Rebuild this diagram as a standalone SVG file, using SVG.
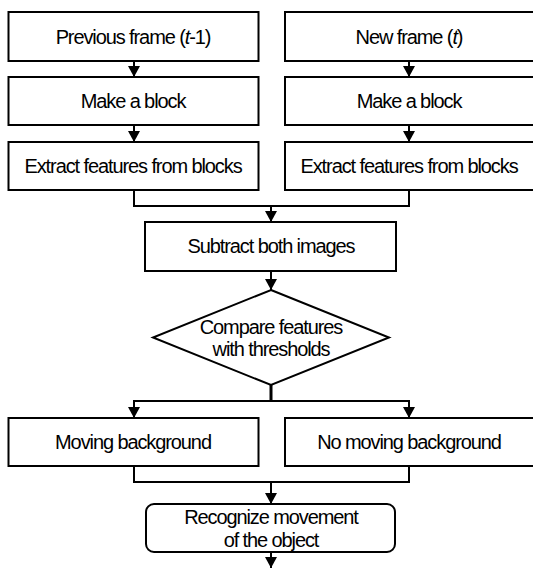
<svg xmlns="http://www.w3.org/2000/svg" width="533" height="569" viewBox="0 0 533 569">
  <style>
    .box { fill: #ffffff; stroke: #000000; stroke-width: 2; }
    .line { fill: none; stroke: #000000; stroke-width: 2; }
    .lbl { font-family: "Liberation Sans", Arial, sans-serif; font-size: 20px; letter-spacing: -1.1px; fill: #000000; text-anchor: middle; }
  </style>
  <defs>
    <marker id="arrow" viewBox="0 0 10 11" refX="10" refY="5.5" markerWidth="11" markerHeight="12" markerUnits="userSpaceOnUse" orient="auto">
      <path d="M0,0 L10,5.5 L0,11 Z" fill="#000000"/>
    </marker>
  </defs>
  <rect width="533" height="569" fill="#ffffff"/>

  <g id="connectors">
    <!-- left column -->
    <line class="line" x1="134" y1="61" x2="134" y2="77" marker-end="url(#arrow)"/>
    <line class="line" x1="134" y1="125" x2="134" y2="142" marker-end="url(#arrow)"/>
    <!-- right column -->
    <line class="line" x1="409" y1="61" x2="409" y2="77" marker-end="url(#arrow)"/>
    <line class="line" x1="409" y1="125" x2="409" y2="142" marker-end="url(#arrow)"/>
    <!-- merge of feature blocks -->
    <polyline class="line" points="134,190 134,206 409,206 409,190"/>
    <line class="line" x1="271" y1="206" x2="271" y2="222" marker-end="url(#arrow)"/>
    <line class="line" x1="271" y1="271" x2="271" y2="290" marker-end="url(#arrow)"/>
    <!-- split after decision -->
    <line class="line" x1="271" y1="385" x2="271" y2="401" style="stroke-width:3"/>
    <line class="line" x1="133" y1="401" x2="410" y2="401"/>
    <line class="line" x1="134" y1="401" x2="134" y2="418" marker-end="url(#arrow)"/>
    <line class="line" x1="409" y1="401" x2="409" y2="418" marker-end="url(#arrow)"/>
    <!-- merge of background branches -->
    <polyline class="line" points="134,466 134,482 409,482 409,466"/>
    <line class="line" x1="271" y1="482" x2="271" y2="504" marker-end="url(#arrow)"/>
    <line class="line" x1="271" y1="552" x2="271" y2="568" marker-end="url(#arrow)"/>
  </g>

  <g id="prev-frame">
    <rect class="box" x="8.5" y="12" width="250" height="49"/>
    <text class="lbl" x="133" y="44">Previous frame (<tspan font-style="italic">t</tspan>-1)</text>
  </g>
  <g id="new-frame">
    <rect class="box" x="285" y="12" width="250" height="49"/>
    <text class="lbl" x="409" y="44">New frame (<tspan font-style="italic">t</tspan>)</text>
  </g>
  <g id="make-block-left">
    <rect class="box" x="8.5" y="77" width="250" height="48"/>
    <text class="lbl" x="133" y="108">Make a block</text>
  </g>
  <g id="make-block-right">
    <rect class="box" x="285" y="77" width="250" height="48"/>
    <text class="lbl" x="409" y="108">Make a block</text>
  </g>
  <g id="extract-left">
    <rect class="box" x="8.5" y="142" width="250" height="48"/>
    <text class="lbl" x="133" y="173">Extract features from blocks</text>
  </g>
  <g id="extract-right">
    <rect class="box" x="285" y="142" width="250" height="48"/>
    <text class="lbl" x="409" y="173">Extract features from blocks</text>
  </g>
  <g id="subtract">
    <rect class="box" x="145" y="222" width="251" height="49"/>
    <text class="lbl" x="271" y="253">Subtract both images</text>
  </g>
  <g id="compare">
    <polygon class="box" points="271,290 389,337.5 271,385 153,337.5"/>
    <text class="lbl" x="271" y="334">Compare features</text>
    <text class="lbl" x="271" y="356">with thresholds</text>
  </g>
  <g id="moving-bg">
    <rect class="box" x="8.5" y="418" width="250" height="48"/>
    <text class="lbl" x="133" y="449">Moving background</text>
  </g>
  <g id="no-moving-bg">
    <rect class="box" x="285" y="418" width="250" height="48"/>
    <text class="lbl" x="409" y="449">No moving background</text>
  </g>
  <g id="recognize">
    <rect class="box" x="146" y="504" width="249" height="48" rx="8" ry="8"/>
    <text class="lbl" x="271" y="524">Recognize movement</text>
    <text class="lbl" x="271" y="547">of the object</text>
  </g>
</svg>
